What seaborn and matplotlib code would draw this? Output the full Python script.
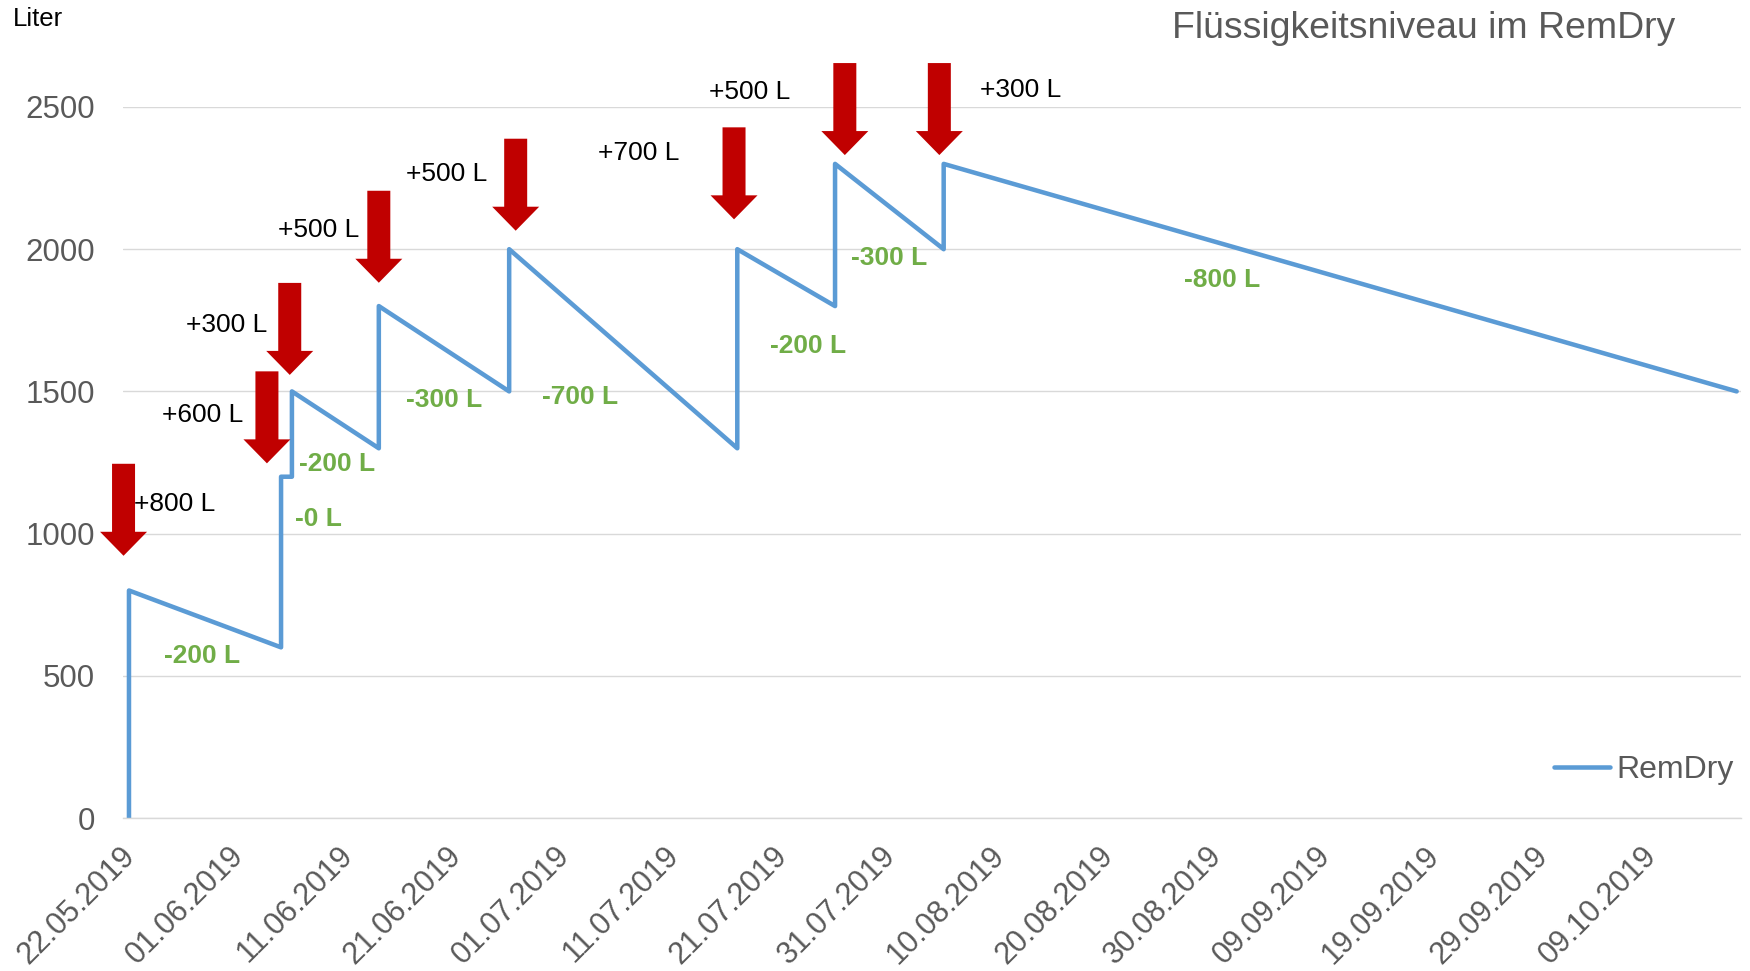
import matplotlib
matplotlib.use("Agg")
import matplotlib.pyplot as plt
import matplotlib.dates as mdates
import matplotlib.patches as mpatches
import matplotlib.transforms as mtransforms
import numpy as np
import pandas as pd
import seaborn as sns

# Data: fluid level in the RemDry (liters)
dates = ["22.05.2019", "22.05.2019", "05.06.2019", "05.06.2019", "06.06.2019",
         "06.06.2019", "14.06.2019", "14.06.2019", "26.06.2019", "26.06.2019",
         "17.07.2019", "17.07.2019", "26.07.2019", "26.07.2019", "05.08.2019",
         "05.08.2019", "17.10.2019"]
levels = [0, 800, 600, 1200, 1200, 1500, 1300, 1800, 1500, 2000,
          1300, 2000, 1800, 2300, 2000, 2300, 1500]

tick_labels = ["22.05.2019", "01.06.2019", "11.06.2019", "21.06.2019", "01.07.2019",
               "11.07.2019", "21.07.2019", "31.07.2019", "10.08.2019", "20.08.2019",
               "30.08.2019", "09.09.2019", "19.09.2019", "29.09.2019", "09.10.2019"]
y_ticks = [0, 500, 1000, 1500, 2000, 2500]

refill_labels = ["+800 L", "+600 L", "+300 L", "+500 L", "+500 L", "+700 L", "+500 L", "+300 L"]
usage_labels = ["-200 L", "-0 L", "-200 L", "-300 L", "-700 L", "-200 L", "-300 L", "-800 L"]

# Annotation placement (days after start, liters)
refill_text_pos = [(4.2, 1104), (6.8, 1417), (9.0, 1733), (17.5, 2068),
                   (29.2, 2264), (46.9, 2338), (57.1, 2553), (82.1, 2560)]
arrow_tips = [(-0.5, 922), (12.7, 1247), (14.8, 1558), (23.0, 1882),
              (35.6, 2065), (55.7, 2105), (65.9, 2331), (74.6, 2331)]
usage_text_pos = [(6.7, 570), (17.4, 1051), (19.2, 1245), (29.0, 1470),
                  (41.5, 1480), (62.5, 1660), (70.0, 1969), (100.6, 1892)]

BLUE = '#5B9BD5'
RED = '#C00000'
GREEN = '#70AD47'
GREY = '#595959'

sns.set_style("white")
plt.rcParams['font.family'] = ['Liberation Sans', 'DejaVu Sans']

df = pd.DataFrame({'Datum': pd.to_datetime(dates, format="%d.%m.%Y"),
                   'Liter': levels})
start = df['Datum'].iloc[0]

fig = plt.figure(figsize=(17.5, 9.71), dpi=100)
ax = fig.add_axes([123 / 1750, 1 - 818 / 971, (1741 - 123) / 1750, (818 - 107) / 971])

sns.lineplot(data=df, x='Datum', y='Liter', estimator=None, sort=False,
             color=BLUE, linewidth=3.25, label='RemDry', ax=ax)

# Axes
ax.set_xlim(start - pd.Timedelta(days=0.55), start + pd.Timedelta(days=148.4))
ax.set_ylim(0, 2500)
ax.set_yticks(y_ticks)
ax.set_yticklabels([str(v) for v in y_ticks])
tick_dates = pd.to_datetime(tick_labels, format="%d.%m.%Y")
ax.set_xticks(tick_dates)
ax.set_xticklabels(tick_labels, rotation=45, ha='right', va='center',
                   rotation_mode='anchor')
ax.tick_params(axis='x', length=0, pad=24, labelsize=22, labelcolor=GREY)
ax.tick_params(axis='y', length=0, pad=20, labelsize=22.5, labelcolor=GREY)
# nudge rotated date labels slightly to the right
shift = mtransforms.ScaledTranslation(2 / 100, 0, fig.dpi_scale_trans)
for lbl in ax.get_xticklabels():
    lbl.set_transform(lbl.get_transform() + shift)
ax.set_xlabel("")
ax.set_ylabel("")
ax.grid(axis='y', color='#D9D9D9', linewidth=1.0)
ax.grid(axis='x', visible=False)
for side in ['top', 'right', 'left']:
    ax.spines[side].set_visible(False)
ax.spines['bottom'].set_color('#D9D9D9')
ax.spines['bottom'].set_linewidth(1.0)

# Red refill arrows (shape in pixels, tip at origin)
arrow_shape = np.array([(0, 0), (-23.5, 24), (-11.5, 24), (-11.5, 92),
                        (11.5, 92), (11.5, 24), (23.5, 24)]) / 100.0
for (d, y) in arrow_tips:
    xnum = mdates.date2num(start + pd.Timedelta(days=d))
    trans = fig.dpi_scale_trans + mtransforms.ScaledTranslation(xnum, y, ax.transData)
    ax.add_patch(mpatches.Polygon(arrow_shape, closed=True, facecolor=RED,
                                  edgecolor='none', transform=trans,
                                  clip_on=False, zorder=4))

for label, (d, y) in zip(refill_labels, refill_text_pos):
    ax.text(start + pd.Timedelta(days=d), y, label, ha='center', va='center',
            fontsize=19, color='black', clip_on=False, zorder=5)

for label, (d, y) in zip(usage_labels, usage_text_pos):
    ax.text(start + pd.Timedelta(days=d), y, label, ha='center', va='center',
            fontsize=19, color=GREEN, fontweight='bold', zorder=5)

# Legend
ax.legend(loc='center right', bbox_to_anchor=(1734 / 1750, 1 - 770 / 971),
          bbox_transform=fig.transFigure, frameon=False, fontsize=23,
          handlelength=1.75, handletextpad=0.2, borderpad=0, borderaxespad=0,
          labelcolor=GREY)

# Titles
fig.text(1424 / 1750, 1 - 29 / 971, "Flüssigkeitsniveau im RemDry",
         ha='center', va='center', fontsize=26.9, color=GREY)
fig.text(13 / 1750, 1 - 19 / 971, "Liter", ha='left', va='center',
         fontsize=18.5, color='black')

plt.savefig("out.png", dpi=100)
